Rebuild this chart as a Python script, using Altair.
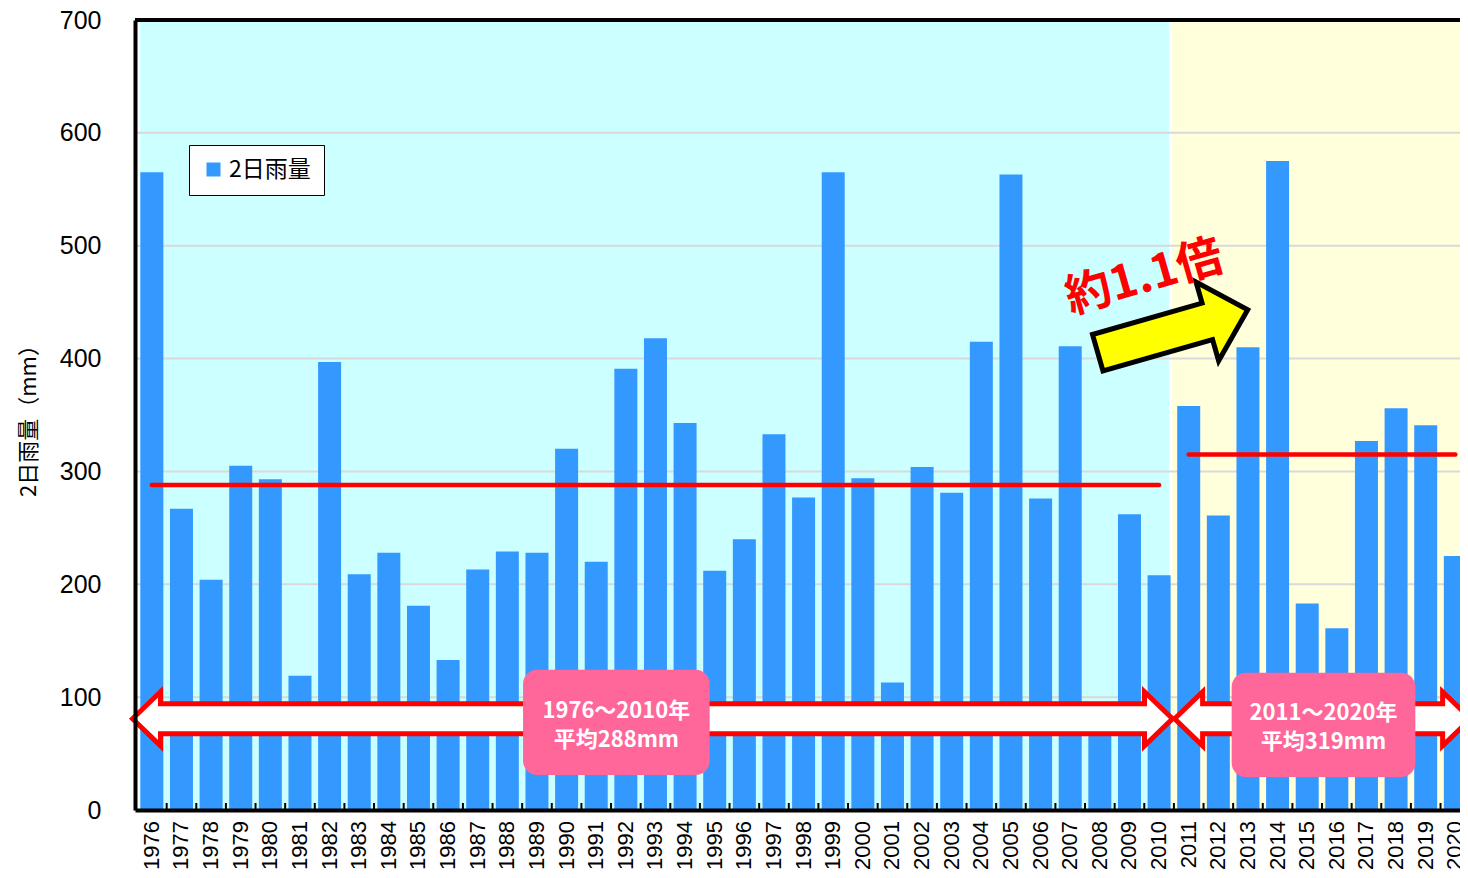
import altair as alt
import pandas as pd

# ---- data ----
years = list(range(1976, 2021))
rain_2day = [565, 267, 204, 305, 293, 119, 397, 209, 228, 181,
             133, 213, 229, 228, 320, 220, 391, 418, 343, 212,
             240, 333, 277, 565, 294, 113, 304, 281, 415, 563,
             276, 411, 85, 262, 208, 358, 261, 410, 575, 183,
             161, 327, 356, 341, 225]
year_labels = [str(y) for y in years]
series_name = "2日雨量"
y_ticks = [0, 100, 200, 300, 400, 500, 600, 700]
grid_values = [100, 200, 300, 400, 500, 600]

# period averages (as drawn)
avg_start = [1976, 2011]
avg_end = [2010, 2020.0]
avg_value = [288, 315]

# background periods (in year units)
bg1 = {"x": [1975.6], "x2": [2010.34], "y": [0], "y2": [700]}
bg2 = {"x": [2010.44], "x2": [2020.5], "y": [0], "y2": [700]}

# annotation boxes / texts (year / mm units)
box_x = [1988.53, 2012.45]
box_x2 = [1994.83, 2018.65]
box_y = [124.3, 121.6]
box_y2 = [31.1, 29.3]
label_x = [1991.68, 1991.68, 2015.55, 2015.55]
label_y = [87.9, 62.1, 86.1, 60.4]
label_text = ["1976～2010年", "平均288mm", "2011～2020年", "平均319mm"]

W, H = 1325, 790
XDOM = [1975.6, 1975.6 + W / 29.85]
LAT = "Liberation Sans"
JP = "Noto Sans CJK JP"

df = pd.DataFrame({"year": years, "rain": rain_2day, "series": series_name,
                   "label": year_labels})
bounds = pd.DataFrame({"b": [y + 0.5 for y in years[:-1]]})
grid = pd.DataFrame({"g": grid_values})
avg = pd.DataFrame({"x": avg_start, "x2": avg_end, "y": avg_value})
boxes = pd.DataFrame({"x": box_x, "x2": box_x2, "y": box_y, "y2": box_y2})
labels = pd.DataFrame({"x": label_x, "y": label_y, "t": label_text})

xs = alt.Scale(domain=XDOM, nice=False, zero=False)
ys = alt.Scale(domain=[0, 700], nice=False)


def bg_chart(d, color):
    return alt.Chart(pd.DataFrame(d)).mark_rect(color=color).encode(
        x=alt.X("x:Q", scale=xs), x2="x2:Q",
        y=alt.Y("y:Q", scale=ys), y2="y2:Q",
    )


background1 = bg_chart(bg1, "#CCFFFF")
background2 = bg_chart(bg2, "#FFFFDC")

grid_rules = alt.Chart(grid).mark_rule(color="#D9D9D9", strokeWidth=2).encode(
    y=alt.Y("g:Q", scale=ys),
    x=alt.value(0),
    x2=alt.value(W + 20),
)

bars = alt.Chart(df).mark_bar(width=23).encode(
    x=alt.X("year:Q", scale=xs,
            axis=alt.Axis(values=years, labels=False, ticks=False, grid=False,
                          title=None, domainColor="black", domainWidth=4, zindex=1)),
    y=alt.Y("rain:Q", scale=ys,
            axis=alt.Axis(values=y_ticks, labelFont=LAT, labelFontSize=25,
                          labelColor="black", labelPadding=34, ticks=False, grid=False,
                          domainColor="black", domainWidth=4, zindex=1,
                          title="2日雨量（mm）", titleFont=JP, titleFontSize=22,
                          titleFontWeight="normal", titleColor="black",
                          titleX=-107, titleY=395, titleBaseline="middle", titleAlign="center")),
    color=alt.Color("series:N", scale=alt.Scale(domain=[series_name], range=["#3399FF"]),
                    legend=alt.Legend(title=None, orient="none", legendX=54, legendY=125,
                                      fillColor="white", strokeColor="black", padding=13,
                                      symbolType="square", symbolSize=196, symbolStrokeWidth=0,
                                      labelFont=JP, labelFontSize=23, labelColor="black",
                                      labelOffset=4)),
)

year_text = alt.Chart(df).mark_text(
    angle=270, align="right", baseline="middle", font=LAT, fontSize=22, color="black"
).encode(
    x=alt.X("year:Q", scale=xs),
    y=alt.value(H + 11),
    text="label:N",
)

ticks = alt.Chart(bounds).mark_rule(color="black", strokeWidth=2).encode(
    x=alt.X("b:Q", scale=xs),
    y=alt.value(H),
    y2=alt.value(H - 7),
)

top_frame = alt.Chart(grid).mark_rule(color="black", strokeWidth=4).encode(
    x=alt.value(0), x2=alt.value(W + 20), y=alt.value(0)
)

avg_lines = alt.Chart(avg).mark_rule(color="#FF0000", strokeWidth=4.5, strokeCap="round").encode(
    x=alt.X("x:Q", scale=xs), x2="x2:Q", y=alt.Y("y:Q", scale=ys)
)

arrow1_path = "M -520 0 L -492 -27 L -492 -15 L 492 -15 L 492 -27 L 520 0 L 492 27 L 492 15 L -492 15 L -492 27 Z"
arrow2_path = "M -148 0 L -120 -27 L -120 -15 L 120 -15 L 120 -27 L 148 0 L 120 27 L 120 15 L -120 15 L -120 27 Z"

arrow1 = alt.Chart(pd.DataFrame({"x": [1992.90], "y": [80.8]})).mark_point(
    shape=arrow1_path, size=4, filled=True, fill="white", stroke="#FF0000",
    strokeWidth=5, opacity=1, strokeJoin="miter"
).encode(x=alt.X("x:Q", scale=xs), y=alt.Y("y:Q", scale=ys))

arrow2 = alt.Chart(pd.DataFrame({"x": [2015.52], "y": [80.8]})).mark_point(
    shape=arrow2_path, size=4, filled=True, fill="white", stroke="#FF0000",
    strokeWidth=5, opacity=1, strokeJoin="miter"
).encode(x=alt.X("x:Q", scale=xs), y=alt.Y("y:Q", scale=ys))

pink = alt.Chart(boxes).mark_rect(color="#FF6699", cornerRadius=14).encode(
    x=alt.X("x:Q", scale=xs), x2="x2:Q", y=alt.Y("y:Q", scale=ys), y2="y2:Q"
)

pink_text = alt.Chart(labels).mark_text(
    color="white", font=JP, fontSize=22, fontWeight="bold", align="center", baseline="middle"
).encode(x=alt.X("x:Q", scale=xs), y=alt.Y("y:Q", scale=ys), text="t:N")

yellow_path = "M -78 -19 L 36 -19 L 36 -41 L 78 0 L 36 41 L 36 19 L -78 19 Z"
yellow = alt.Chart(pd.DataFrame({"x": [2010.46], "y": [424.2]})).mark_point(
    shape=yellow_path, size=4, filled=True, fill="#FFFF00", stroke="black",
    strokeWidth=5, opacity=1, angle=344, strokeJoin="miter"
).encode(x=alt.X("x:Q", scale=xs), y=alt.Y("y:Q", scale=ys))

ratio_text = alt.Chart(pd.DataFrame({"x": [2009.50], "y": [471.3], "t": ["約1.1倍"]})).mark_text(
    color="#FF0000", font=JP, fontSize=46, fontWeight="bold", angle=344,
    align="center", baseline="middle"
).encode(x=alt.X("x:Q", scale=xs), y=alt.Y("y:Q", scale=ys), text="t:N")

chart = alt.layer(
    background1, background2, grid_rules, bars, year_text, ticks, top_frame, avg_lines,
    arrow1, arrow2, pink, pink_text, yellow, ratio_text
).properties(
    width=W, height=H,
    autosize=alt.AutoSizeParams(type="none"),
    padding={"left": 127, "top": 12, "right": 0, "bottom": 60},
).configure_view(stroke=None)

chart.save("out.html", embed_options={"renderer": "svg", "actions": False})
